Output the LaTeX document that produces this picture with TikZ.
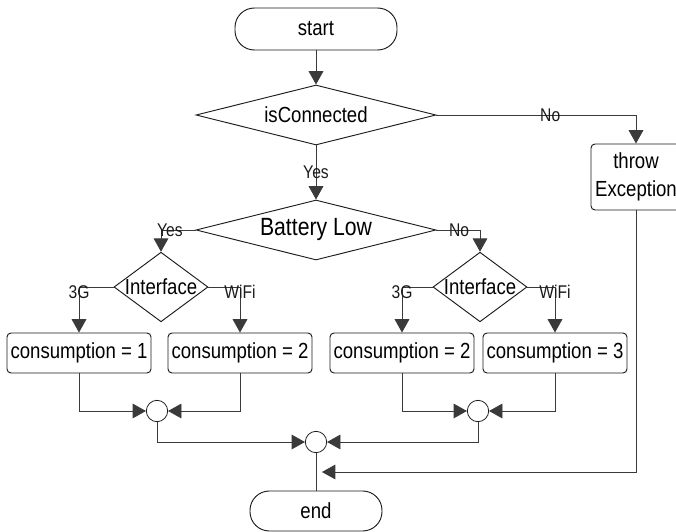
\documentclass[tikz,border=0pt]{standalone}
\usepackage{fontspec}
\setmainfont[FakeStretch=0.85]{Liberation Sans}
\usepackage{xcolor}
\usepackage{tikz}
\usetikzlibrary{arrows.meta,shapes.geometric}
\definecolor{flowink}{HTML}{1A1A1A}
\definecolor{flowline}{HTML}{3A3A3A}

\begin{document}
\begin{tikzpicture}[x=0.75pt,y=-0.75pt,
  terminal/.style={draw=flowink, line width=0.7pt, rounded corners=14.5pt, minimum width=121.5pt, minimum height=31.5pt, inner sep=0pt, font=\fontsize{16.4}{18}\selectfont},
  decision/.style={draw=flowink, line width=0.7pt, diamond, inner sep=0pt, font=\fontsize{16.4}{18}\selectfont},
  process/.style={draw=flowink, line width=0.7pt, rounded corners=3pt, minimum width=108pt, minimum height=30pt, inner sep=0pt, font=\fontsize{16.4}{18}\selectfont},
  merge/.style={draw=flowink, line width=0.6pt, circle, minimum size=16pt, inner sep=0pt},
  flow/.style={draw=flowline, line width=0.6pt, -{Triangle[length=10pt,width=11pt]}},
  plain/.style={draw=flowline, line width=0.6pt},
  branch/.style={font=\fontsize{13.8}{15}\selectfont, inner sep=0pt, text=flowink}]
  \clip (0,0) rectangle (676,532);

  \node[terminal] (start) at (316,29) {start};
  \node[decision, aspect=4, minimum width=180pt, minimum height=45pt] (conn) at (316,115) {isConnected};
  \node[process, minimum width=67.5pt, minimum height=49.5pt, align=center, font=\fontsize{16.4}{21}\selectfont] (throw) at (636,177) {throw\\Exception};
  \node[decision, aspect=4, minimum width=180pt, minimum height=45pt, font=\fontsize{18.7}{20}\selectfont] (batt) at (316,230) {Battery Low};
  \node[decision, aspect=1.35, minimum width=69pt, minimum height=51pt] (ifL) at (161,287) {Interface};
  \node[decision, aspect=1.35, minimum width=69pt, minimum height=51pt] (ifR) at (480,287) {Interface};

  \node[process] (c1) at (79,353) {consumption = 1};
  \node[process] (c2) at (240,353) {consumption = 2};
  \node[process] (c3) at (402,353) {consumption = 2};
  \node[process] (c4) at (555,353) {consumption = 3};

  \node[merge] (m1) at (157,411) {};
  \node[merge] (m2) at (478,411) {};
  \node[merge] (m3) at (316,442) {};
  \node[terminal, minimum width=99pt, minimum height=30pt] (end) at (316,511) {end};
  \coordinate (hit) at (322,472);

  \draw[flow] (start) -- (conn);
  \draw[flow] (conn.east) -| node[branch, pos=0.285] {No} (throw.north);
  \draw[flow] (conn) -- node[branch] {Yes} (batt);
  \draw[flow] (batt.west) -| node[branch, pos=0.37] {Yes} (ifL.north);
  \draw[flow] (batt.east) -| node[branch, pos=0.26] {No} (ifR.north);

  \draw[flow] (ifL.west) -| node[branch, pos=0.5, yshift=-3.5pt] {3G} (c1.north);
  \draw[flow] (ifL.east) -| node[branch, pos=0.5, yshift=-3.5pt] {WiFi} (c2.north);
  \draw[flow] (ifR.west) -| node[branch, pos=0.5, yshift=-3.5pt] {3G} (c3.north);
  \draw[flow] (ifR.east) -| node[branch, pos=0.5, yshift=-3.5pt] {WiFi} (c4.north);

  \draw[flow] (c1.south) |- (m1.west);
  \draw[flow] (c2.south) |- (m1.east);
  \draw[flow] (c3.south) |- (m2.west);
  \draw[flow] (c4.south) |- (m2.east);
  \draw[flow] (m1.south) |- (m3.west);
  \draw[flow] (m2.south) |- (m3.east);
  \draw[plain] (m3) -- (end);
  \draw[flow] (throw.south) |- (hit);
\end{tikzpicture}
\end{document}
